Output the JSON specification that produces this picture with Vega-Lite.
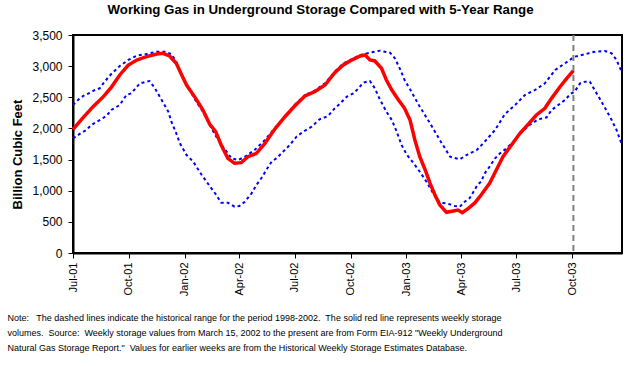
{
  "$schema": "https://vega.github.io/schema/vega-lite/v6.json",
  "width": 549,
  "height": 218,
  "autosize": {"type": "none"},
  "padding": {"left": 73, "top": 35, "right": 16, "bottom": 113},
  "background": "white",
  "title": {
    "text": "Working Gas in Underground Storage Compared with 5-Year Range",
    "font": "Liberation Sans",
    "fontSize": 13.3,
    "fontWeight": "bold",
    "color": "black",
    "anchor": "middle",
    "frame": "group",
    "dx": -27,
    "offset": 13
  },
  "config": {
    "font": "Liberation Sans",
    "view": {"stroke": "black", "strokeWidth": 2},
    "axis": {
      "grid": false,
      "domainColor": "black",
      "domainWidth": 2,
      "tickColor": "black",
      "tickWidth": 1,
      "tickSize": 5,
      "labelColor": "black",
      "titleColor": "black",
      "labelFont": "Liberation Sans",
      "titleFont": "Liberation Sans"
    }
  },
  "datasets": {
    "gas": [
      {"date": "2001-07-01", "series": "5-Year Maximum", "bcf": 2376},
      {"date": "2001-07-12", "series": "5-Year Maximum", "bcf": 2483},
      {"date": "2001-07-18", "series": "5-Year Maximum", "bcf": 2521},
      {"date": "2001-07-29", "series": "5-Year Maximum", "bcf": 2574},
      {"date": "2001-08-06", "series": "5-Year Maximum", "bcf": 2617},
      {"date": "2001-08-14", "series": "5-Year Maximum", "bcf": 2644},
      {"date": "2001-08-22", "series": "5-Year Maximum", "bcf": 2751},
      {"date": "2001-09-02", "series": "5-Year Maximum", "bcf": 2874},
      {"date": "2001-09-16", "series": "5-Year Maximum", "bcf": 3002},
      {"date": "2001-09-30", "series": "5-Year Maximum", "bcf": 3099},
      {"date": "2001-10-14", "series": "5-Year Maximum", "bcf": 3168},
      {"date": "2001-10-30", "series": "5-Year Maximum", "bcf": 3195},
      {"date": "2001-11-16", "series": "5-Year Maximum", "bcf": 3232},
      {"date": "2001-11-29", "series": "5-Year Maximum", "bcf": 3232},
      {"date": "2001-12-10", "series": "5-Year Maximum", "bcf": 3195},
      {"date": "2001-12-18", "series": "5-Year Maximum", "bcf": 3072},
      {"date": "2001-12-29", "series": "5-Year Maximum", "bcf": 2804},
      {"date": "2002-01-09", "series": "5-Year Maximum", "bcf": 2617},
      {"date": "2002-01-20", "series": "5-Year Maximum", "bcf": 2429},
      {"date": "2002-01-31", "series": "5-Year Maximum", "bcf": 2269},
      {"date": "2002-02-11", "series": "5-Year Maximum", "bcf": 2055},
      {"date": "2002-02-25", "series": "5-Year Maximum", "bcf": 1814},
      {"date": "2002-03-08", "series": "5-Year Maximum", "bcf": 1665},
      {"date": "2002-03-19", "series": "5-Year Maximum", "bcf": 1520},
      {"date": "2002-03-30", "series": "5-Year Maximum", "bcf": 1493},
      {"date": "2002-04-10", "series": "5-Year Maximum", "bcf": 1546},
      {"date": "2002-04-26", "series": "5-Year Maximum", "bcf": 1654},
      {"date": "2002-05-13", "series": "5-Year Maximum", "bcf": 1814},
      {"date": "2002-05-29", "series": "5-Year Maximum", "bcf": 2002},
      {"date": "2002-06-15", "series": "5-Year Maximum", "bcf": 2188},
      {"date": "2002-07-01", "series": "5-Year Maximum", "bcf": 2376},
      {"date": "2002-07-18", "series": "5-Year Maximum", "bcf": 2537},
      {"date": "2002-08-03", "series": "5-Year Maximum", "bcf": 2606},
      {"date": "2002-08-20", "series": "5-Year Maximum", "bcf": 2724},
      {"date": "2002-09-05", "series": "5-Year Maximum", "bcf": 2911},
      {"date": "2002-09-19", "series": "5-Year Maximum", "bcf": 3045},
      {"date": "2002-10-01", "series": "5-Year Maximum", "bcf": 3099},
      {"date": "2002-10-17", "series": "5-Year Maximum", "bcf": 3179},
      {"date": "2002-11-02", "series": "5-Year Maximum", "bcf": 3216},
      {"date": "2002-11-18", "series": "5-Year Maximum", "bcf": 3248},
      {"date": "2002-12-05", "series": "5-Year Maximum", "bcf": 3216},
      {"date": "2002-12-13", "series": "5-Year Maximum", "bcf": 3126},
      {"date": "2002-12-21", "series": "5-Year Maximum", "bcf": 2965},
      {"date": "2002-12-29", "series": "5-Year Maximum", "bcf": 2777},
      {"date": "2003-01-07", "series": "5-Year Maximum", "bcf": 2628},
      {"date": "2003-01-23", "series": "5-Year Maximum", "bcf": 2349},
      {"date": "2003-02-09", "series": "5-Year Maximum", "bcf": 2082},
      {"date": "2003-02-25", "series": "5-Year Maximum", "bcf": 1814},
      {"date": "2003-03-14", "series": "5-Year Maximum", "bcf": 1546},
      {"date": "2003-03-30", "series": "5-Year Maximum", "bcf": 1504},
      {"date": "2003-04-10", "series": "5-Year Maximum", "bcf": 1573},
      {"date": "2003-04-27", "series": "5-Year Maximum", "bcf": 1654},
      {"date": "2003-05-10", "series": "5-Year Maximum", "bcf": 1787},
      {"date": "2003-05-27", "series": "5-Year Maximum", "bcf": 1975},
      {"date": "2003-06-12", "series": "5-Year Maximum", "bcf": 2227},
      {"date": "2003-06-29", "series": "5-Year Maximum", "bcf": 2376},
      {"date": "2003-07-15", "series": "5-Year Maximum", "bcf": 2537},
      {"date": "2003-08-01", "series": "5-Year Maximum", "bcf": 2617},
      {"date": "2003-08-17", "series": "5-Year Maximum", "bcf": 2724},
      {"date": "2003-09-03", "series": "5-Year Maximum", "bcf": 2938},
      {"date": "2003-09-19", "series": "5-Year Maximum", "bcf": 3045},
      {"date": "2003-10-05", "series": "5-Year Maximum", "bcf": 3152},
      {"date": "2003-10-22", "series": "5-Year Maximum", "bcf": 3190},
      {"date": "2003-11-07", "series": "5-Year Maximum", "bcf": 3232},
      {"date": "2003-11-24", "series": "5-Year Maximum", "bcf": 3243},
      {"date": "2003-12-05", "series": "5-Year Maximum", "bcf": 3206},
      {"date": "2003-12-13", "series": "5-Year Maximum", "bcf": 3099},
      {"date": "2003-12-22", "series": "5-Year Maximum", "bcf": 2900},

      {"date": "2001-07-01", "series": "5-Year Minimum", "bcf": 1841},
      {"date": "2001-07-12", "series": "5-Year Minimum", "bcf": 1911},
      {"date": "2001-07-23", "series": "5-Year Minimum", "bcf": 1975},
      {"date": "2001-07-31", "series": "5-Year Minimum", "bcf": 2055},
      {"date": "2001-08-14", "series": "5-Year Minimum", "bcf": 2135},
      {"date": "2001-08-25", "series": "5-Year Minimum", "bcf": 2199},
      {"date": "2001-09-02", "series": "5-Year Minimum", "bcf": 2296},
      {"date": "2001-09-16", "series": "5-Year Minimum", "bcf": 2376},
      {"date": "2001-09-27", "series": "5-Year Minimum", "bcf": 2537},
      {"date": "2001-10-05", "series": "5-Year Minimum", "bcf": 2564},
      {"date": "2001-10-19", "series": "5-Year Minimum", "bcf": 2724},
      {"date": "2001-11-04", "series": "5-Year Minimum", "bcf": 2761},
      {"date": "2001-11-13", "series": "5-Year Minimum", "bcf": 2644},
      {"date": "2001-11-24", "series": "5-Year Minimum", "bcf": 2456},
      {"date": "2001-12-05", "series": "5-Year Minimum", "bcf": 2269},
      {"date": "2001-12-10", "series": "5-Year Minimum", "bcf": 2108},
      {"date": "2001-12-17", "series": "5-Year Minimum", "bcf": 1948},
      {"date": "2001-12-24", "series": "5-Year Minimum", "bcf": 1761},
      {"date": "2002-01-04", "series": "5-Year Minimum", "bcf": 1573},
      {"date": "2002-01-15", "series": "5-Year Minimum", "bcf": 1466},
      {"date": "2002-01-29", "series": "5-Year Minimum", "bcf": 1252},
      {"date": "2002-02-11", "series": "5-Year Minimum", "bcf": 1076},
      {"date": "2002-02-22", "series": "5-Year Minimum", "bcf": 931},
      {"date": "2002-03-02", "series": "5-Year Minimum", "bcf": 808},
      {"date": "2002-03-13", "series": "5-Year Minimum", "bcf": 808},
      {"date": "2002-03-24", "series": "5-Year Minimum", "bcf": 743},
      {"date": "2002-04-01", "series": "5-Year Minimum", "bcf": 755},
      {"date": "2002-04-10", "series": "5-Year Minimum", "bcf": 824},
      {"date": "2002-04-21", "series": "5-Year Minimum", "bcf": 958},
      {"date": "2002-04-29", "series": "5-Year Minimum", "bcf": 1092},
      {"date": "2002-05-07", "series": "5-Year Minimum", "bcf": 1199},
      {"date": "2002-05-16", "series": "5-Year Minimum", "bcf": 1343},
      {"date": "2002-05-24", "series": "5-Year Minimum", "bcf": 1466},
      {"date": "2002-06-01", "series": "5-Year Minimum", "bcf": 1520},
      {"date": "2002-06-12", "series": "5-Year Minimum", "bcf": 1627},
      {"date": "2002-06-23", "series": "5-Year Minimum", "bcf": 1734},
      {"date": "2002-07-04", "series": "5-Year Minimum", "bcf": 1867},
      {"date": "2002-07-15", "series": "5-Year Minimum", "bcf": 1948},
      {"date": "2002-07-29", "series": "5-Year Minimum", "bcf": 2028},
      {"date": "2002-08-11", "series": "5-Year Minimum", "bcf": 2146},
      {"date": "2002-08-25", "series": "5-Year Minimum", "bcf": 2199},
      {"date": "2002-09-05", "series": "5-Year Minimum", "bcf": 2323},
      {"date": "2002-09-14", "series": "5-Year Minimum", "bcf": 2403},
      {"date": "2002-09-25", "series": "5-Year Minimum", "bcf": 2510},
      {"date": "2002-10-06", "series": "5-Year Minimum", "bcf": 2564},
      {"date": "2002-10-14", "series": "5-Year Minimum", "bcf": 2644},
      {"date": "2002-10-22", "series": "5-Year Minimum", "bcf": 2735},
      {"date": "2002-11-02", "series": "5-Year Minimum", "bcf": 2761},
      {"date": "2002-11-10", "series": "5-Year Minimum", "bcf": 2644},
      {"date": "2002-11-18", "series": "5-Year Minimum", "bcf": 2472},
      {"date": "2002-11-29", "series": "5-Year Minimum", "bcf": 2269},
      {"date": "2002-12-08", "series": "5-Year Minimum", "bcf": 2135},
      {"date": "2002-12-16", "series": "5-Year Minimum", "bcf": 1948},
      {"date": "2002-12-24", "series": "5-Year Minimum", "bcf": 1734},
      {"date": "2003-01-02", "series": "5-Year Minimum", "bcf": 1573},
      {"date": "2003-01-13", "series": "5-Year Minimum", "bcf": 1440},
      {"date": "2003-01-23", "series": "5-Year Minimum", "bcf": 1305},
      {"date": "2003-02-03", "series": "5-Year Minimum", "bcf": 1145},
      {"date": "2003-02-14", "series": "5-Year Minimum", "bcf": 958},
      {"date": "2003-02-25", "series": "5-Year Minimum", "bcf": 808},
      {"date": "2003-03-08", "series": "5-Year Minimum", "bcf": 798},
      {"date": "2003-03-22", "series": "5-Year Minimum", "bcf": 755},
      {"date": "2003-03-30", "series": "5-Year Minimum", "bcf": 743},
      {"date": "2003-04-07", "series": "5-Year Minimum", "bcf": 824},
      {"date": "2003-04-15", "series": "5-Year Minimum", "bcf": 878},
      {"date": "2003-04-20", "series": "5-Year Minimum", "bcf": 958},
      {"date": "2003-04-28", "series": "5-Year Minimum", "bcf": 1092},
      {"date": "2003-05-04", "series": "5-Year Minimum", "bcf": 1145},
      {"date": "2003-05-10", "series": "5-Year Minimum", "bcf": 1279},
      {"date": "2003-05-18", "series": "5-Year Minimum", "bcf": 1386},
      {"date": "2003-05-27", "series": "5-Year Minimum", "bcf": 1520},
      {"date": "2003-06-04", "series": "5-Year Minimum", "bcf": 1600},
      {"date": "2003-06-15", "series": "5-Year Minimum", "bcf": 1681},
      {"date": "2003-06-29", "series": "5-Year Minimum", "bcf": 1814},
      {"date": "2003-07-10", "series": "5-Year Minimum", "bcf": 1948},
      {"date": "2003-07-23", "series": "5-Year Minimum", "bcf": 2055},
      {"date": "2003-08-06", "series": "5-Year Minimum", "bcf": 2146},
      {"date": "2003-08-20", "series": "5-Year Minimum", "bcf": 2178},
      {"date": "2003-08-28", "series": "5-Year Minimum", "bcf": 2296},
      {"date": "2003-09-08", "series": "5-Year Minimum", "bcf": 2376},
      {"date": "2003-09-19", "series": "5-Year Minimum", "bcf": 2456},
      {"date": "2003-09-28", "series": "5-Year Minimum", "bcf": 2553},
      {"date": "2003-10-05", "series": "5-Year Minimum", "bcf": 2590},
      {"date": "2003-10-14", "series": "5-Year Minimum", "bcf": 2724},
      {"date": "2003-10-22", "series": "5-Year Minimum", "bcf": 2751},
      {"date": "2003-10-30", "series": "5-Year Minimum", "bcf": 2751},
      {"date": "2003-11-07", "series": "5-Year Minimum", "bcf": 2617},
      {"date": "2003-11-15", "series": "5-Year Minimum", "bcf": 2483},
      {"date": "2003-11-26", "series": "5-Year Minimum", "bcf": 2296},
      {"date": "2003-12-05", "series": "5-Year Minimum", "bcf": 2135},
      {"date": "2003-12-13", "series": "5-Year Minimum", "bcf": 1975},
      {"date": "2003-12-22", "series": "5-Year Minimum", "bcf": 1734},

      {"date": "2001-07-01", "series": "Working Gas", "bcf": 1985},
      {"date": "2001-07-18", "series": "Working Gas", "bcf": 2178},
      {"date": "2001-08-03", "series": "Working Gas", "bcf": 2349},
      {"date": "2001-08-20", "series": "Working Gas", "bcf": 2510},
      {"date": "2001-09-02", "series": "Working Gas", "bcf": 2660},
      {"date": "2001-09-16", "series": "Working Gas", "bcf": 2858},
      {"date": "2001-09-30", "series": "Working Gas", "bcf": 3018},
      {"date": "2001-10-14", "series": "Working Gas", "bcf": 3099},
      {"date": "2001-10-30", "series": "Working Gas", "bcf": 3152},
      {"date": "2001-11-16", "series": "Working Gas", "bcf": 3195},
      {"date": "2001-11-26", "series": "Working Gas", "bcf": 3206},
      {"date": "2001-12-07", "series": "Working Gas", "bcf": 3163},
      {"date": "2001-12-18", "series": "Working Gas", "bcf": 3045},
      {"date": "2001-12-27", "series": "Working Gas", "bcf": 2858},
      {"date": "2002-01-04", "series": "Working Gas", "bcf": 2697},
      {"date": "2002-01-19", "series": "Working Gas", "bcf": 2483},
      {"date": "2002-01-31", "series": "Working Gas", "bcf": 2296},
      {"date": "2002-02-11", "series": "Working Gas", "bcf": 2070},
      {"date": "2002-02-21", "series": "Working Gas", "bcf": 1948},
      {"date": "2002-03-02", "series": "Working Gas", "bcf": 1734},
      {"date": "2002-03-13", "series": "Working Gas", "bcf": 1520},
      {"date": "2002-03-24", "series": "Working Gas", "bcf": 1440},
      {"date": "2002-04-04", "series": "Working Gas", "bcf": 1450},
      {"date": "2002-04-15", "series": "Working Gas", "bcf": 1546},
      {"date": "2002-04-29", "series": "Working Gas", "bcf": 1600},
      {"date": "2002-05-13", "series": "Working Gas", "bcf": 1761},
      {"date": "2002-05-29", "series": "Working Gas", "bcf": 1985},
      {"date": "2002-06-15", "series": "Working Gas", "bcf": 2188},
      {"date": "2002-07-01", "series": "Working Gas", "bcf": 2360},
      {"date": "2002-07-18", "series": "Working Gas", "bcf": 2521},
      {"date": "2002-08-03", "series": "Working Gas", "bcf": 2590},
      {"date": "2002-08-20", "series": "Working Gas", "bcf": 2697},
      {"date": "2002-09-05", "series": "Working Gas", "bcf": 2895},
      {"date": "2002-09-19", "series": "Working Gas", "bcf": 3018},
      {"date": "2002-10-01", "series": "Working Gas", "bcf": 3088},
      {"date": "2002-10-17", "series": "Working Gas", "bcf": 3163},
      {"date": "2002-10-25", "series": "Working Gas", "bcf": 3179},
      {"date": "2002-11-02", "series": "Working Gas", "bcf": 3099},
      {"date": "2002-11-10", "series": "Working Gas", "bcf": 3083},
      {"date": "2002-11-21", "series": "Working Gas", "bcf": 2965},
      {"date": "2002-11-29", "series": "Working Gas", "bcf": 2777},
      {"date": "2002-12-08", "series": "Working Gas", "bcf": 2617},
      {"date": "2002-12-19", "series": "Working Gas", "bcf": 2456},
      {"date": "2002-12-29", "series": "Working Gas", "bcf": 2323},
      {"date": "2003-01-07", "series": "Working Gas", "bcf": 2135},
      {"date": "2003-01-15", "series": "Working Gas", "bcf": 1814},
      {"date": "2003-01-23", "series": "Working Gas", "bcf": 1546},
      {"date": "2003-02-01", "series": "Working Gas", "bcf": 1333},
      {"date": "2003-02-09", "series": "Working Gas", "bcf": 1119},
      {"date": "2003-02-17", "series": "Working Gas", "bcf": 931},
      {"date": "2003-02-25", "series": "Working Gas", "bcf": 771},
      {"date": "2003-03-08", "series": "Working Gas", "bcf": 653},
      {"date": "2003-03-19", "series": "Working Gas", "bcf": 674},
      {"date": "2003-03-27", "series": "Working Gas", "bcf": 690},
      {"date": "2003-04-03", "series": "Working Gas", "bcf": 647},
      {"date": "2003-04-13", "series": "Working Gas", "bcf": 717},
      {"date": "2003-04-24", "series": "Working Gas", "bcf": 808},
      {"date": "2003-05-04", "series": "Working Gas", "bcf": 931},
      {"date": "2003-05-18", "series": "Working Gas", "bcf": 1119},
      {"date": "2003-05-29", "series": "Working Gas", "bcf": 1333},
      {"date": "2003-06-09", "series": "Working Gas", "bcf": 1546},
      {"date": "2003-06-23", "series": "Working Gas", "bcf": 1734},
      {"date": "2003-07-07", "series": "Working Gas", "bcf": 1922},
      {"date": "2003-07-21", "series": "Working Gas", "bcf": 2071},
      {"date": "2003-08-03", "series": "Working Gas", "bcf": 2216},
      {"date": "2003-08-17", "series": "Working Gas", "bcf": 2323},
      {"date": "2003-08-28", "series": "Working Gas", "bcf": 2483},
      {"date": "2003-09-11", "series": "Working Gas", "bcf": 2670},
      {"date": "2003-09-22", "series": "Working Gas", "bcf": 2804},
      {"date": "2003-10-03", "series": "Working Gas", "bcf": 2927}
    ],
    "marker": [{"date": "2003-10-03", "label": "Latest week"}]
  },
  "encoding": {
    "x": {
      "field": "date",
      "type": "temporal",
      "scale": {
        "type": "utc",
        "domain": [
          {"year": 2001, "month": 7, "date": 1, "utc": true},
          {"year": 2003, "month": 12, "date": 22, "utc": true}
        ]
      },
      "axis": {
        "values": [
          {"year": 2001, "month": 7, "date": 1, "utc": true},
          {"year": 2001, "month": 10, "date": 1, "utc": true},
          {"year": 2002, "month": 1, "date": 1, "utc": true},
          {"year": 2002, "month": 4, "date": 1, "utc": true},
          {"year": 2002, "month": 7, "date": 1, "utc": true},
          {"year": 2002, "month": 10, "date": 1, "utc": true},
          {"year": 2003, "month": 1, "date": 1, "utc": true},
          {"year": 2003, "month": 4, "date": 1, "utc": true},
          {"year": 2003, "month": 7, "date": 1, "utc": true},
          {"year": 2003, "month": 10, "date": 1, "utc": true}
        ],
        "labelExpr": "utcFormat(datum.value, '%b-%y')",
        "labelAngle": -90,
        "labelFontSize": 11,
        "labelPadding": 4,
        "labelOverlap": false,
        "title": [
          "Note:\u00a0\u00a0 The dashed lines indicate the historical range for the period 1998-2002.\u00a0 The solid red line represents weekly storage",
          "volumes.\u00a0 Source:\u00a0 Weekly storage values from March 15, 2002 to the present are from Form EIA-912 \"Weekly Underground",
          "Natural Gas Storage Report.\"\u00a0 Values for earlier weeks are from the Historical Weekly Storage Estimates Database."
        ],
        "titleFont": "Liberation Sans",
        "titleFontSize": 9,
        "titleFontWeight": "normal",
        "titleLineHeight": 15,
        "titleAlign": "left",
        "titleAnchor": "start",
        "titleBaseline": "alphabetic",
        "titleX": -66,
        "titleY": 67.5
      }
    }
  },
  "layer": [
    {
      "data": {"name": "gas"},
      "encoding": {
        "y": {
          "field": "bcf",
          "type": "quantitative",
          "scale": {"domain": [0, 3500], "nice": false},
          "axis": {
            "values": [0, 500, 1000, 1500, 2000, 2500, 3000, 3500],
            "format": ",d",
            "labelFontSize": 12,
            "labelPadding": 6,
            "title": "Billion Cubic Feet",
            "titleFontSize": 13,
            "titleFontWeight": "bold",
            "titleAngle": 270,
            "titleAlign": "center",
            "titleBaseline": "alphabetic",
            "titleX": -51.5,
            "titleY": 119
          }
        }
      },
      "layer": [
        {
          "transform": [{"filter": "datum.series !== 'Working Gas'"}],
          "mark": {"type": "line", "color": "#0000FF", "strokeWidth": 2, "strokeDash": [3, 3]},
          "encoding": {"detail": {"field": "series", "type": "nominal"}}
        },
        {
          "transform": [{"filter": "datum.series === 'Working Gas'"}],
          "mark": {"type": "line", "color": "#FF0000", "strokeWidth": 3.5}
        }
      ]
    },
    {
      "data": {"name": "marker"},
      "mark": {"type": "rule", "color": "#808080", "strokeWidth": 2, "strokeDash": [6, 4]},
      "encoding": {}
    }
  ]
}
